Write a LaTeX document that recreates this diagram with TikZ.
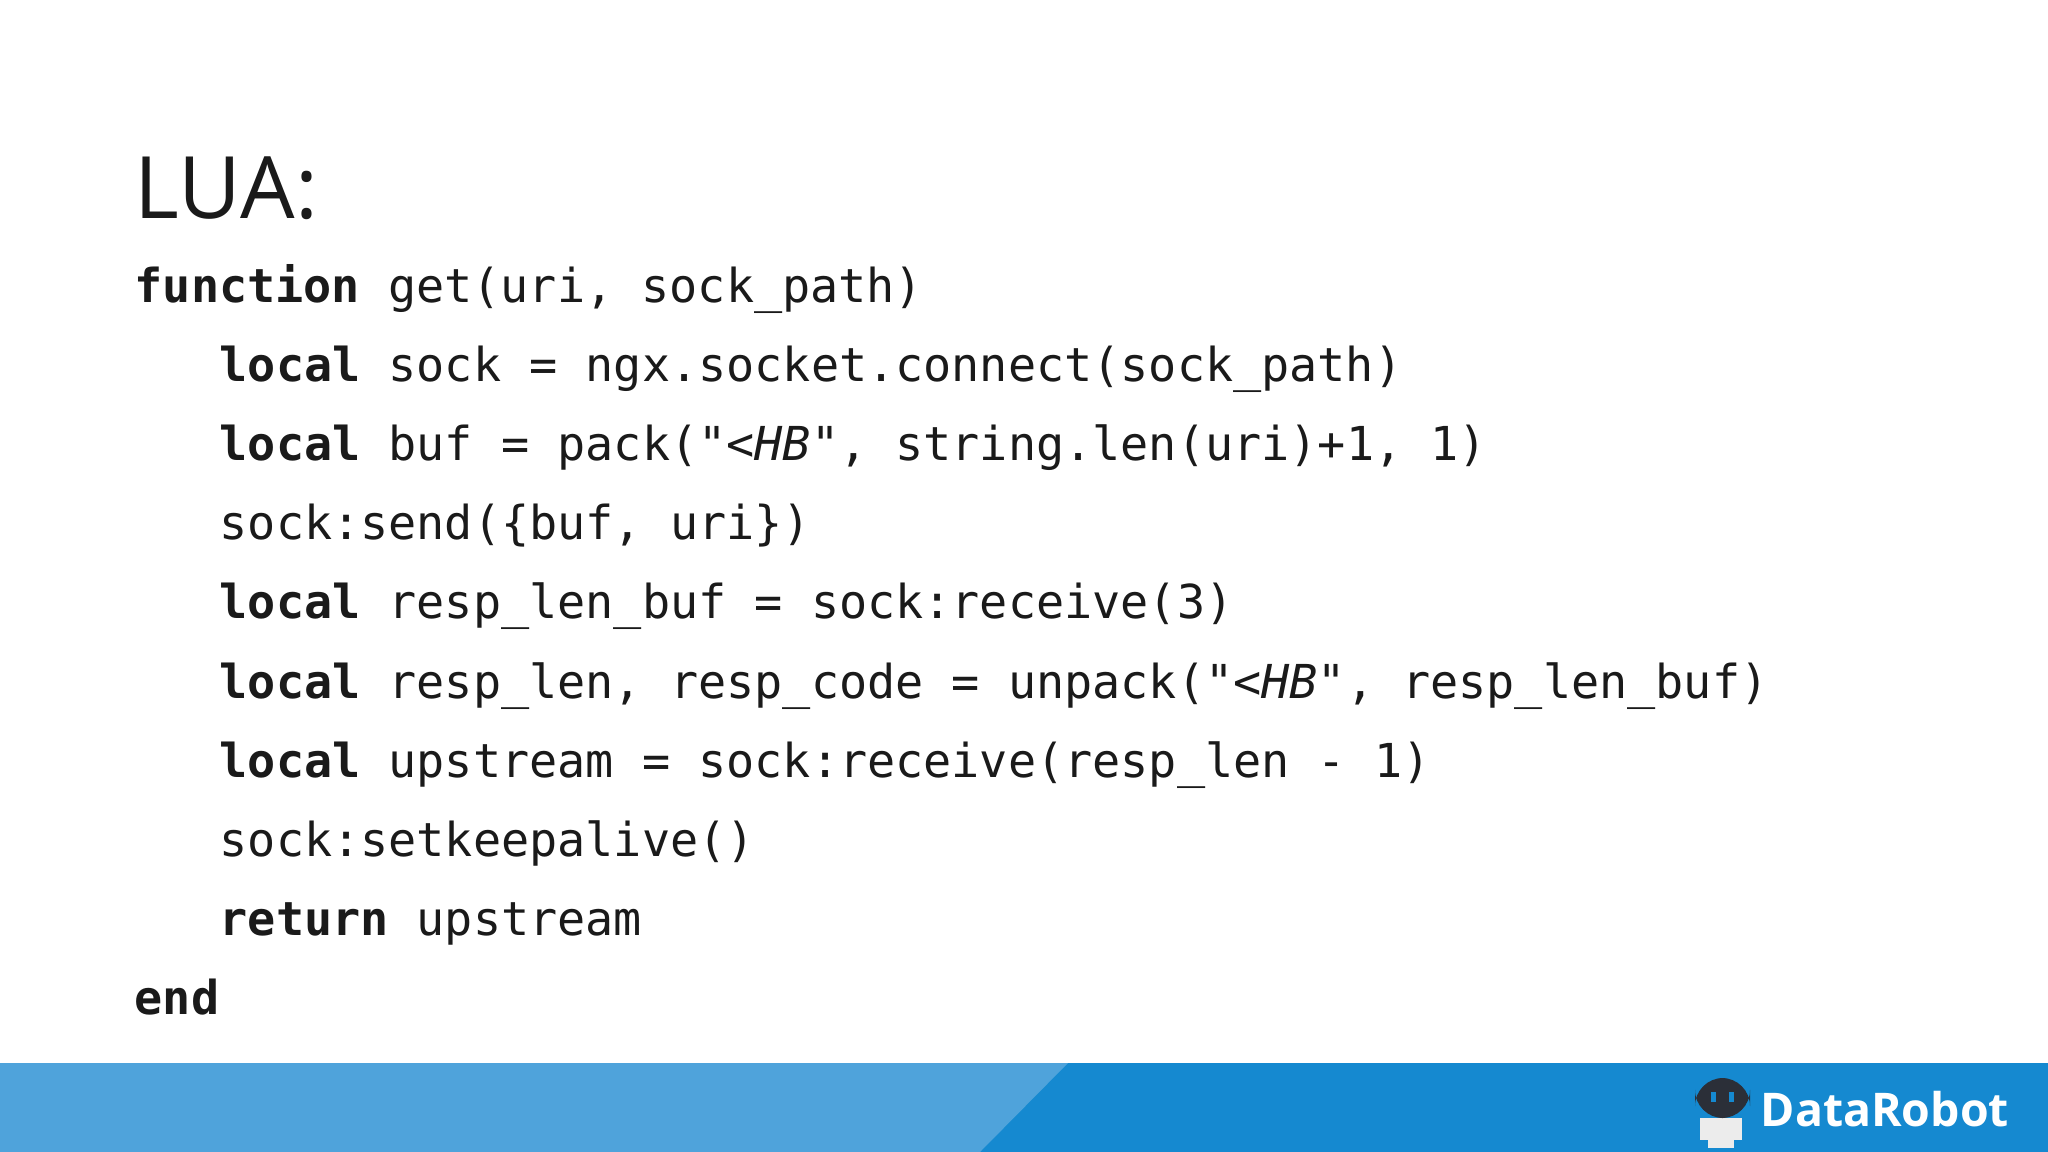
\documentclass[tikz,border=0pt]{standalone}
\usepackage{fontspec}
\setmainfont{Open Sans}
\newfontfamily\code{DejaVu Sans Mono}
\newfontfamily\logo{Open Sans}
\definecolor{ink}{HTML}{1A1A1A}
\definecolor{lightbar}{HTML}{4FA3DB}
\definecolor{darkbar}{HTML}{1589D0}
\definecolor{robot}{HTML}{2B2F38}
\begin{document}
\begin{tikzpicture}[x=0.01cm,y=-0.01cm,
  ln/.style={anchor=base west,inner sep=0pt,text=ink,font=\code\fontsize{13.3pt}{15pt}\selectfont}]
\useasboundingbox (0,0) rectangle (2048,1152);
\fill[white] (0,0) rectangle (2048,1152);
\fill[darkbar] (0,1063) rectangle (2048,1152);
\fill[lightbar] (0,1063) -- (1068,1063) -- (980,1152) -- (0,1152) -- cycle;
\node[anchor=base west,inner sep=0pt,text=ink,font=\fontsize{24.5pt}{26pt}\selectfont] (title) at (134,219) {LUA:};
\node[ln] (l1) at (134,303) {\textbf{function} get(uri, sock\_path)};
\node[ln] (l2) at (219,382) {\textbf{local} sock = ngx.socket.connect(sock\_path)};
\node[ln] (l3) at (219,461) {\textbf{local} buf = pack("\textit{<HB}", string.len(uri)+1, 1)};
\node[ln] (l4) at (219,540) {sock:send(\{buf, uri\})};
\node[ln] (l5) at (219,619) {\textbf{local} resp\_len\_buf = sock:receive(3)};
\node[ln] (l6) at (219,698) {\textbf{local} resp\_len, resp\_code = unpack("\textit{<HB}", resp\_len\_buf)};
\node[ln] (l7) at (219,777) {\textbf{local} upstream = sock:receive(resp\_len - 1)};
\node[ln] (l8) at (219,856) {sock:setkeepalive()};
\node[ln] (l9) at (219,935) {\textbf{return} upstream};
\node[ln] (l10) at (134,1014) {\textbf{end}};
% logo
\fill[white!85!gray] (1700,1118) rectangle (1742,1140);
\fill[white!85!gray] (1708,1140) rectangle (1734,1148);
\fill[robot,rounded corners=8] (1695,1078) rectangle (1750,1118);
\fill[darkbar] (1711,1092) rectangle (1716,1102);
\fill[darkbar] (1729,1092) rectangle (1734,1102);
\node[anchor=base west,inner sep=0pt,text=white,font=\logo\bfseries\fontsize{13.2pt}{14pt}\selectfont] (brand) at (1760,1126) {DataRobot};
\end{tikzpicture}
\end{document}
